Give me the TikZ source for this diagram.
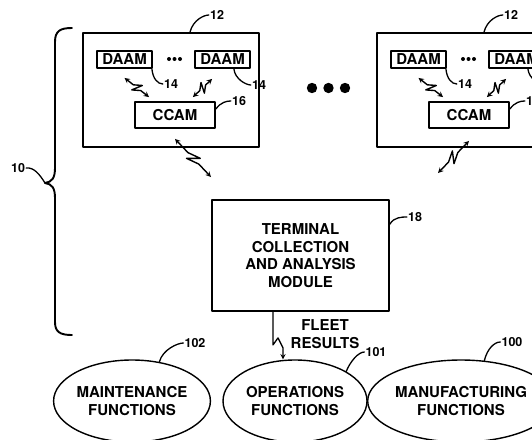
\documentclass[tikz,border=0pt]{standalone}
\usepackage{fontspec}
\setmainfont{TeX Gyre Heros}
\usetikzlibrary{shapes.geometric,calc}

\tikzset{
  box/.style={draw, line width=1.8pt, inner sep=0pt, align=center},
  oval/.style={draw, ellipse, line width=1.4pt, inner sep=0pt, minimum width=144pt, minimum height=82pt, align=center},
  num/.style={inner sep=1pt, font=\fontsize{12.5}{14}\selectfont\bfseries},
  lead/.style={line width=1.3pt},
  zap/.style={<->, line width=1.4pt, to path={
      -- ($(\tikztostart)!.36!(\tikztotarget)$)
      -- ($(\tikztostart)!.6!(\tikztotarget)!5pt!90:(\tikztotarget)$)
      -- ($(\tikztostart)!.42!(\tikztotarget)!5pt!-90:(\tikztotarget)$)
      -- ($(\tikztostart)!.66!(\tikztotarget)$)
      -- (\tikztotarget)}}
}

\begin{document}
\begin{tikzpicture}[x=1pt, y=-1pt, font=\fontsize{15}{17.5}\selectfont\bfseries, line join=round, line cap=round, >=stealth]
\path[use as bounding box] (0,0) rectangle (532,439);
\clip (0,0) rectangle (532,439);

% vehicle groups
\foreach \g/\dx in {A/0,B/294}{
  \begin{scope}[xshift=\dx]
    \node[box, minimum width=176pt, minimum height=114pt] (grp\g) at (171,90) {};
    \node[box, minimum width=55pt, minimum height=17pt] (daam\g1) at (124.5,59.5) {DAAM};
    \node[box, minimum width=55pt, minimum height=17pt] (daam\g2) at (222.5,59.5) {DAAM};
    \node[box, minimum width=80pt, minimum height=26pt] (ccam\g) at (175,115) {CCAM};
    \foreach \x in {169,174.5,180} \fill (\x,59) circle(2);
    % labels
    \node[num] (n12\g) at (217,15) {12};
    \draw[lead] ([xshift=19pt]grp\g.north) .. controls +(3,-12) and +(-5,0) .. (n12\g.west);
    \node[num] (n14\g1) at (171,84) {14};
    \draw[lead] ([xshift=-1pt]daam\g1.south east) .. controls +(1,10) and +(-5,0) .. (n14\g1.west);
    \node[num] (n14\g2) at (259,85) {14};
    \draw[lead] ([xshift=-17pt]daam\g2.south east) .. controls +(1,10) and +(-5,0) .. (n14\g2.west);
    \node[num] (n16\g) at (239,101) {16};
    \draw[lead] ([yshift=6pt]ccam\g.east) .. controls +(5,-7) and +(-4,0) .. (n16\g.west);
    % radio links
    \coordinate (z\g1s) at ([yshift=-9pt]daam\g1.south);
    \coordinate (z\g1e) at ([shift={(15pt,4pt)}]ccam\g.north west);
    \coordinate (z\g2s) at ([shift={(-23pt,4pt)}]ccam\g.north east);
    \coordinate (z\g2e) at ([shift={(18pt,-10pt)}]daam\g2.south west);
    \draw[zap] (z\g1s) to (z\g1e);
    \draw[zap] (z\g2s) to (z\g2e);
  \end{scope}
}

% links down from the vehicles
\coordinate (zAs) at ([yshift=-10pt]ccamA.south);
\coordinate (zAe) at (211,177);
\coordinate (zBs) at ([yshift=-12pt]ccamB.south);
\coordinate (zBe) at (438,173);
\draw[zap] (zAs) to (zAe);
\draw[zap] (zBs) to (zBe);

\foreach \x in {312,328.5,345} \fill (\x,88) circle(5.2);

% brace
\coordinate (tip) at (45,183);
\draw[line width=1.9pt] (72,28) .. controls (60,28) and (55,31) .. (55,42) -- (55,168)
  .. controls (55,178) and (52,182) .. (tip) .. controls (52,184) and (55,188) .. (55,198)
  -- (55,322) .. controls (55,332) and (60,335) .. (72,335);
\node[num] (n10) at (18,168) {10};
\draw[lead] (n10.east) .. controls +(8,-1) and +(-5,-8) .. (tip);

% terminal module
\node[box, minimum width=177pt, minimum height=111pt] (tcam) at (300.5,255.5)
  {TERMINAL\\COLLECTION\\AND ANALYSIS\\MODULE};
\node[num] (n18) at (415,217) {18};
\draw[lead] ([yshift=-25pt]tcam.north east) .. controls +(4,-7) and +(-5,0) .. (n18.west);

% functions
\node[oval] (mntF) at (132,401) {MAINTENANCE\\FUNCTIONS};
\node[oval] (opsF) at (295,401) {OPERATIONS\\FUNCTIONS};
\node[oval] (mfgF) at (461,401) {MANUFACTURING\\FUNCTIONS};
\node[num] (n102) at (195,343) {102};
\draw[lead] (mntF.55) .. controls +(3,-12) and +(-6,0) .. (n102.west);
\node[num] (n101) at (376,352) {101};
\draw[lead] (opsF.30) .. controls +(4,-10) and +(-6,0) .. (n101.west);
\node[num] (n100) at (512,342) {100};
\draw[lead] (mfgF.60) .. controls +(3,-12) and +(-6,0) .. (n100.west);

% fleet results
\draw[->, lead] ([xshift=-27.5pt]tcam.south) -- ++(0,33) -- ++(5,-7) -- ++(5,10) -- ([xshift=-12pt]opsF.north);
\node[align=center] (fleet) at (325,334) {FLEET\\RESULTS};
\end{tikzpicture}
\end{document}
